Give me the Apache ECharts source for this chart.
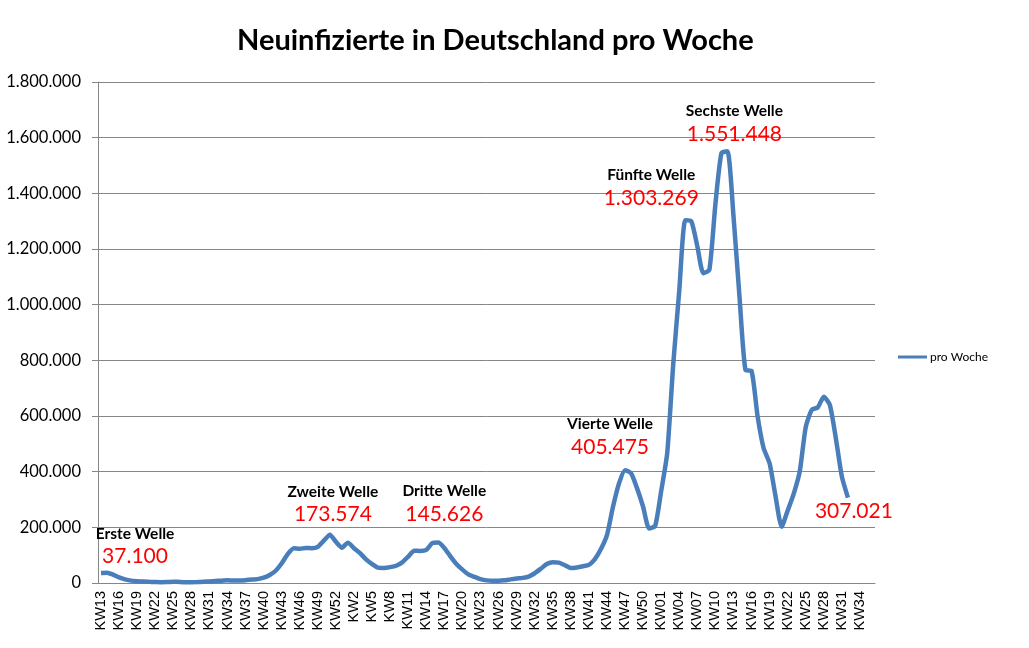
<!DOCTYPE html>
<html>
<head>
<meta charset="utf-8">
<title>Neuinfizierte in Deutschland pro Woche</title>
<script src="https://cdn.jsdelivr.net/npm/echarts@6/dist/echarts.min.js"></script>
<style>
  html, body { margin: 0; padding: 0; background: #fff; }
  #main { width: 1029px; height: 648px; }
</style>
</head>
<body>
<div id="main"></div>
<script>
// Kalenderwochen: 2020 KW13-KW53, 2021 KW1-KW52, 2022 KW01-KW36
var weeks2020 = [];
for (var w = 13; w <= 53; w++) weeks2020.push('KW' + w);
var weeks2021 = [];
for (var w = 1; w <= 52; w++) weeks2021.push('KW' + w);
var weeks2022 = [];
for (var w = 1; w <= 36; w++) weeks2022.push('KW' + (w < 10 ? '0' + w : w));
var categories = weeks2020.concat(weeks2021, weeks2022);

// Neuinfizierte pro Woche
var proWoche = [
  36000, 37100, 30000, 20000, 13000, 8500, 6500, 5000, 4200, 3500,
  3000, 3200, 4800, 3800, 3000, 3000, 3500, 4500, 5500, 7000,
  8500, 9500, 9000, 9000, 10000, 12500, 14000, 19000, 29000, 44000,
  71000, 104000, 125000, 123000, 126000, 125000, 130000, 152000, 173574, 148000,
  127000,
  145000, 125000, 107000, 85000, 68000, 55000, 54000, 57000, 62000, 74000,
  95000, 116000, 115000, 119000, 143000, 145626, 126000, 96000, 68000, 48000,
  31000, 22000, 14000, 9500, 8000, 8000, 9500, 13000, 16000, 18500,
  23000, 35000, 51000, 68000, 75000, 73000, 64000, 54000, 56000, 60000,
  65000, 86000, 122000, 172000, 274000, 358000, 405475, 394000, 340000, 274000,
  196000, 205000,
  330000, 466000, 785000, 1050000, 1303269, 1300000, 1210000, 1113000, 1125000, 1360000,
  1544000, 1551448, 1320000, 1030000, 765000, 762000, 600000, 485000, 430000, 310000,
  202000, 260000, 320000, 400000, 560000, 622000, 631000, 669000, 640000, 520000,
  382000, 307021
];

// Wellen-Beschriftung
var waveNames = ['Erste Welle', 'Zweite Welle', 'Dritte Welle', 'Vierte Welle', 'Fünfte Welle', 'Sechste Welle', ''];
var waveIndex = [1, 38, 56, 87, 97, 104, 124];

var yTicks = [0, 200000, 400000, 600000, 800000, 1000000, 1200000, 1400000, 1600000, 1800000];

var labelOffsets = [[28, -27], [3, -31], [6, -39], [-15, -34], [-34, -33], [7, -28], [6, 14]];

function fmt(v) {
    return String(v).replace(/\B(?=(\d{3})+(?!\d))/g, '.');
}

var markData = [];
for (var i = 0; i < waveIndex.length; i++) {
    var idx = waveIndex[i];
    var val = proWoche[idx];
    var txt = waveNames[i] ? '{a|' + waveNames[i] + '}\n{b|' + fmt(val) + '}' : '{b|' + fmt(val) + '}';
    markData.push({
        coord: [idx, val],
        label: { formatter: txt, offset: labelOffsets[i] }
    });
}

var myChart = echarts.init(document.getElementById('main'));

option = {
    animation: false,
    backgroundColor: '#fff',
    title: {
        text: 'Neuinfizierte in Deutschland pro Woche',
        left: 232,
        top: 21,
        textStyle: {
            fontFamily: 'Lato',
            fontWeight: 'bold',
            fontSize: 29,
            color: '#000'
        }
    },
    legend: {
        data: ['pro Woche'],
        left: 893,
        top: 346,
        icon: 'rect',
        itemWidth: 29,
        itemHeight: 3,
        itemGap: 5,
        textStyle: { fontFamily: 'Lato', fontSize: 12, color: '#000', padding: [0, 0, 0, -2] }
    },
    grid: {
        left: 98,
        right: 154,
        top: 82,
        bottom: 65
    },
    xAxis: {
        type: 'category',
        boundaryGap: true,
        data: categories,
        axisLine: { lineStyle: { color: '#868686', width: 1 } },
        axisTick: { interval: 0, length: 5, lineStyle: { color: '#868686' } },
        axisLabel: {
            interval: 2,
            rotate: 90,
            margin: 8,
            fontFamily: 'Liberation Sans',
            fontSize: 14.5,
            color: '#000'
        }
    },
    yAxis: {
        type: 'value',
        min: yTicks[0],
        max: yTicks[yTicks.length - 1],
        interval: yTicks[1] - yTicks[0],
        axisLine: { show: true, lineStyle: { color: '#868686', width: 1 } },
        axisTick: { show: true, length: 6, lineStyle: { color: '#868686' } },
        splitLine: { lineStyle: { color: '#868686', width: 1 } },
        axisLabel: {
            margin: 17,
            fontFamily: 'Lato',
            fontSize: 16.5,
            color: '#000',
            formatter: fmt
        }
    },
    series: [
        {
            name: 'pro Woche',
            type: 'line',
            data: proWoche,
            smooth: 0.2,
            symbol: 'none',
            lineStyle: { color: '#4A7EBB', width: 4.5 },
            itemStyle: { color: '#4A7EBB' },
            markPoint: {
                symbol: 'circle',
                symbolSize: 1,
                itemStyle: { color: 'rgba(0,0,0,0)' },
                label: {
                    show: true,
                    position: 'inside',
                    align: 'center',
                    color: '#000',
                    textBorderWidth: 0,
                    rich: {
                        a: { fontFamily: 'Lato', fontWeight: 'bold', fontSize: 15.5, lineHeight: 22, color: '#000', align: 'center' },
                        b: { fontFamily: 'Lato', fontSize: 21, lineHeight: 24, color: '#ff0000', align: 'center' }
                    }
                },
                data: markData
            }
        }
    ]
};

myChart.setOption(option);
</script>
</body>
</html>
